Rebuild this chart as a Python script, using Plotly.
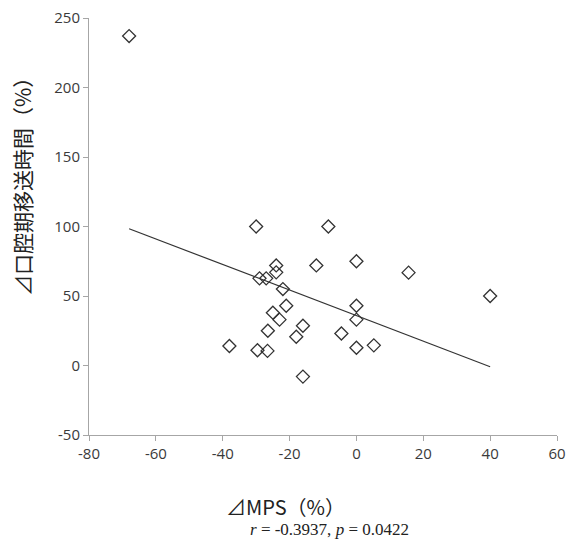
import numpy as np
import plotly.graph_objects as go

# ΔMPS (%) vs Δ oral transit time (%)
mps_change = [-68, -30, -8.4, -24, -12, 0, -24, -29, -27, -22, -21, 0, -25, -23, 0,
              -26.5, -16, -4.5, -18, -38, -29.6, -26.6, 0, 5.2, -16, 40, 15.6]
transit_change = [237, 100, 100, 72, 72, 75, 67, 62.7, 62.7, 55, 43, 43, 38, 33, 33,
                  25, 28.6, 23, 20.7, 14, 11, 10.5, 12.8, 14.5, -8, 50, 66.8]

x_ticks = [-80, -60, -40, -20, 0, 20, 40, 60]
x_tick_text = ["-80", "-60", "-40", "-20", "0", "20", "40", "60"]
y_ticks = [-50, 0, 50, 100, 150, 200, 250]
y_tick_text = ["-50", "0", "50", "100", "150", "200", "250"]

# least-squares trend line over the observed x range
slope, intercept = np.polyfit(mps_change, transit_change, 1)
x_line = [min(mps_change), max(mps_change)]
y_line = [slope * v + intercept for v in x_line]

fig = go.Figure()
fig.add_trace(go.Scatter(
    x=x_line, y=y_line, mode="lines",
    line=dict(color="#333333", width=1.2), hoverinfo="skip", showlegend=False,
))
fig.add_trace(go.Scatter(
    x=mps_change, y=transit_change, mode="markers",
    marker=dict(symbol="diamond-open", size=10, color="#333333",
                line=dict(color="#333333", width=1.3)),
    showlegend=False,
))

axis_common = dict(
    showgrid=False, zeroline=False, showline=True, linecolor="#a6a6a6", linewidth=1,
    ticks="outside", ticklen=5, tickcolor="#a6a6a6", automargin=False,
    tickfont=dict(family="Open Sans, DejaVu Sans, sans-serif", size=15, color="#3a3a3a"),
)

fig.update_layout(
    width=568, height=542,
    margin=dict(l=89, r=11, t=18, b=107),
    paper_bgcolor="white", plot_bgcolor="white",
    xaxis=dict(range=[-80, 60], tickvals=x_ticks, ticktext=x_tick_text, **axis_common),
    yaxis=dict(range=[-50, 250], tickvals=y_ticks, ticktext=y_tick_text, **axis_common),
    annotations=[
        dict(text="⊿口腔期移送時間（%）", textangle=-90,
             xref="paper", yref="paper",
             x=(22 - 89) / 468, y=(435 - 182) / 417,
             xanchor="center", yanchor="middle", showarrow=False,
             font=dict(family="Noto Sans CJK JP", size=21, color="#222222")),
        dict(text="⊿MPS（%）",
             xref="paper", yref="paper",
             x=(285 - 89) / 468, y=(435 - 523) / 417,
             xanchor="center", yanchor="bottom", showarrow=False,
             font=dict(family="Noto Sans CJK JP", size=20, color="#222222")),
        dict(text="<i>r</i> = -0.3937, <i>p</i> = 0.0422",
             xref="paper", yref="paper",
             x=(329 - 89) / 468, y=(435 - 518) / 417,
             xanchor="center", yanchor="top", showarrow=False,
             font=dict(family="Liberation Serif, serif", size=17, color="#222222")),
    ],
)

fig.write_html("out.html")
